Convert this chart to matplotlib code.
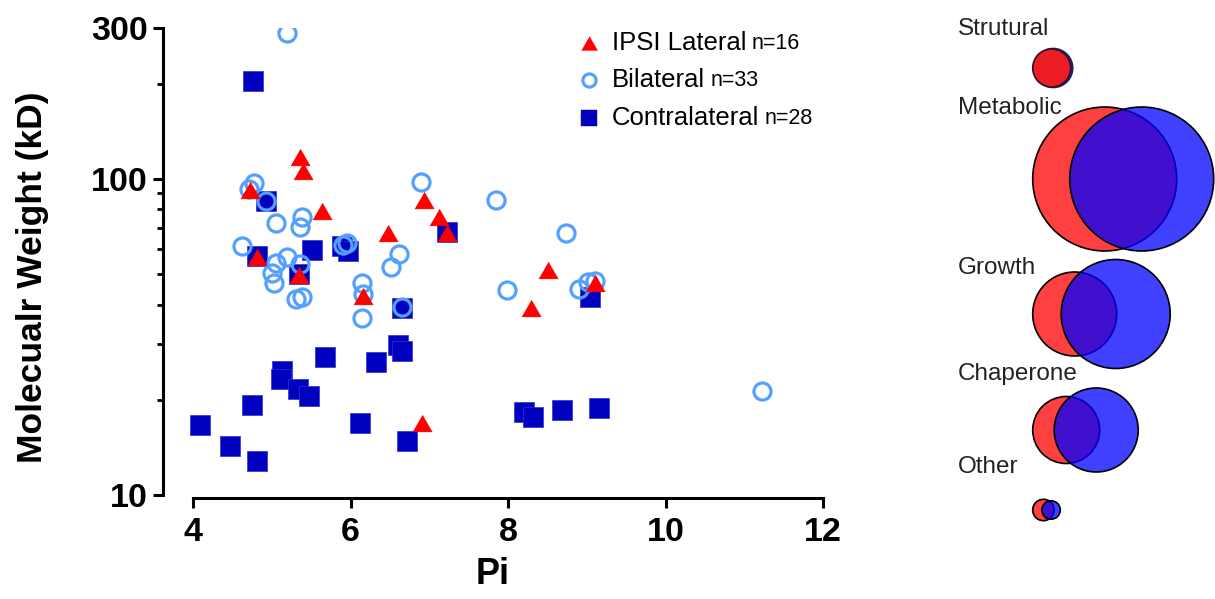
import numpy as np
import matplotlib.pyplot as plt
from matplotlib.patches import Circle
from matplotlib.ticker import FixedLocator, NullFormatter

plt.rcParams['font.family'] = ['Liberation Sans', 'DejaVu Sans']

# --- scatter data (Pi, molecular weight in kD) ---
ipsi_pi = [5.36, 5.40, 4.72, 5.64, 6.48, 6.93, 4.81, 5.35, 6.16, 7.12, 7.22, 8.51, 8.29, 9.11, 6.91]
ipsi_mw = [117.4, 106.0, 92.3, 79.2, 67.5, 85.8, 56.6, 49.7, 42.6, 75.8, 67.5, 51.5, 39.1, 46.9, 16.9]

bilat_pi = [5.19, 4.77, 4.71, 4.93, 5.06, 5.38, 5.36, 4.62, 6.89, 7.85, 5.91, 5.95,
            5.19, 5.06, 5.00, 5.03, 5.36, 6.62, 6.51, 6.15, 6.16, 6.15, 5.31, 5.38,
            6.66, 7.99, 8.74, 8.90, 9.01, 9.11, 11.22]
bilat_mw = [289.1, 96.9, 93.0, 85.2, 72.4, 76.0, 70.6, 61.4, 97.6, 85.6, 61.8, 62.6,
            56.6, 54.1, 50.4, 47.0, 53.8, 57.9, 52.5, 47.0, 43.3, 36.4, 41.7, 42.4,
            39.3, 44.5, 67.3, 44.8, 47.3, 47.6, 21.3]

contra_pi = [4.76, 4.93, 4.81, 5.51, 5.89, 5.97, 5.35, 6.65, 7.22, 9.04, 4.09, 4.47, 4.81, 4.75,
             5.13, 5.12, 5.33, 5.47, 5.68, 6.32, 6.60, 6.65, 6.12, 6.72, 8.20, 8.32, 8.68, 9.15]
contra_mw = [204.2, 85.2, 57.1, 59.6, 61.4, 59.2, 50.1, 39.1, 68.0, 42.3, 16.65, 14.29, 12.81, 19.27,
             24.69, 23.29, 21.65, 20.57, 27.33, 26.36, 29.84, 28.56, 16.90, 14.82, 18.31, 17.65, 18.58, 18.85]

series_names = ['IPSI Lateral', 'Bilateral', 'Contralateral']
series_n = [16, 33, 28]

# --- functional category overlap circles ---
categories = ['Strutural', 'Metabolic', 'Growth', 'Chaperone', 'Other']
ipsi_radius = [19, 72, 42, 33.5, 10.7]
contra_radius = [19.5, 72, 54.5, 42, 9.2]
center_gap = [1.5, 37, 41, 30, 7.7]

RED = '#FF0000'
LBLUE = '#55A0FF'
DBLUE = '#0000BF'

W, H = 1215, 599
fig = plt.figure(figsize=(W / 100, H / 100), dpi=100)

# main scatter axes (pixel layout)
x_left, x_right, y_top, y_bot = 163, 823, 28, 495
ax = fig.add_axes([x_left / W, 1 - y_bot / H, (x_right - x_left) / W, (y_bot - y_top) / H])

tri = [(-1, -0.866), (1, -0.866), (0, 0.866)]
ax.plot(contra_pi, contra_mw, ls='none', marker='s', ms=13.7, mfc=DBLUE, mec='#3030D0',
        mew=0.5, zorder=3)
ax.plot(bilat_pi, bilat_mw, ls='none', marker='o', ms=12.3, mfc='none', mec=LBLUE,
        mew=2.3, zorder=4)
ax.plot(ipsi_pi, ipsi_mw, ls='none', marker=tri, ms=14, mfc=RED, mec=RED, mew=0.3, zorder=5)

ax.set_yscale('log')
ax.set_ylim(10, 300)
ax.set_xlim(4 - 30 / 78.75, 12)

ax.yaxis.set_major_locator(FixedLocator([10, 100, 300]))
ax.yaxis.set_minor_locator(FixedLocator([20, 30, 40, 50, 60, 70, 80, 90, 200]))
ax.yaxis.set_minor_formatter(NullFormatter())
ax.set_yticklabels(['10', '100', '300'])
ax.set_xticks([4, 6, 8, 10, 12])

for s in ['top', 'right']:
    ax.spines[s].set_visible(False)
for s in ['left', 'bottom']:
    ax.spines[s].set_linewidth(2.2)
ax.spines['bottom'].set_bounds(4, 12)
ax.spines['bottom'].set_position(('outward', 2))

ax.tick_params(axis='both', which='major', direction='out', length=7, width=2.2,
               labelsize=24.5)
ax.tick_params(axis='y', which='minor', direction='out', length=4.5, width=2.0)
ax.tick_params(axis='x', pad=7)
ax.tick_params(axis='y', pad=4)
for lab in ax.get_xticklabels() + ax.get_yticklabels():
    lab.set_fontweight('bold')

fig.text(33 / W, 1 - 277 / H, 'Molecualr Weight (kD)', rotation=90, ha='center',
         va='center', fontsize=25.5, fontweight='bold')
fig.text(493 / W, 1 - 575 / H, 'Pi', ha='center', va='center', fontsize=26,
         fontweight='bold')

# legend drawn by hand so the n= counts can be smaller
leg_markers = [dict(marker=tri, ms=11.5, mfc=RED, mec=RED, mew=0.3),
               dict(marker='o', ms=9.5, mfc='none', mec=LBLUE, mew=2.3),
               dict(marker='s', ms=11, mfc=DBLUE, mec=DBLUE, mew=0.3)]
leg_y = [43, 80, 118]
for name, n, mk, py in zip(series_names, series_n, leg_markers, leg_y):
    yax = (y_bot - py) / (y_bot - y_top)
    ax.plot([(589 - x_left) / (x_right - x_left)], [yax], ls='none',
            transform=ax.transAxes, clip_on=False, **mk)
    t = ax.text((612 - x_left) / (x_right - x_left), yax, name, transform=ax.transAxes,
                ha='left', va='center', fontsize=18.5)
    ax.annotate(f'n={n}', xy=(1, 0), xycoords=t, xytext=(4, 0.5),
                textcoords='offset points', ha='left', va='bottom', fontsize=15.5)

# right panel: overlap circles per category
rax = fig.add_axes([940 / W, 0, (W - 940) / W, 1])
rax.set_xlim(940, W)
rax.set_ylim(H, 0)
rax.axis('off')

label_y = [29, 108, 268, 374, 467]
circle_y = [68, 179, 314, 430, 510]
red_left = 1032.7
for i, cat in enumerate(categories):
    rax.text(958, label_y[i], cat, ha='left', va='center', fontsize=17.5, color='#222222')
    rc = red_left + ipsi_radius[i]
    bc = rc + center_gap[i]
    if i == 0:
        rax.add_patch(Circle((bc, circle_y[i]), contra_radius[i], fc='#2020A0',
                             ec='#202060', lw=1.2, zorder=2))
        rax.add_patch(Circle((rc, circle_y[i]), ipsi_radius[i], fc='#EC1C24',
                             ec='#301030', lw=1.2, zorder=3))
    else:
        rax.add_patch(Circle((rc, circle_y[i]), ipsi_radius[i], fc=(1, 0, 0, 0.75),
                             ec='black', lw=1.2, zorder=2))
        rax.add_patch(Circle((bc, circle_y[i]), contra_radius[i], fc=(0, 0, 1, 0.75),
                             ec='black', lw=1.2, zorder=3))

fig.savefig('out.png', dpi=100)
